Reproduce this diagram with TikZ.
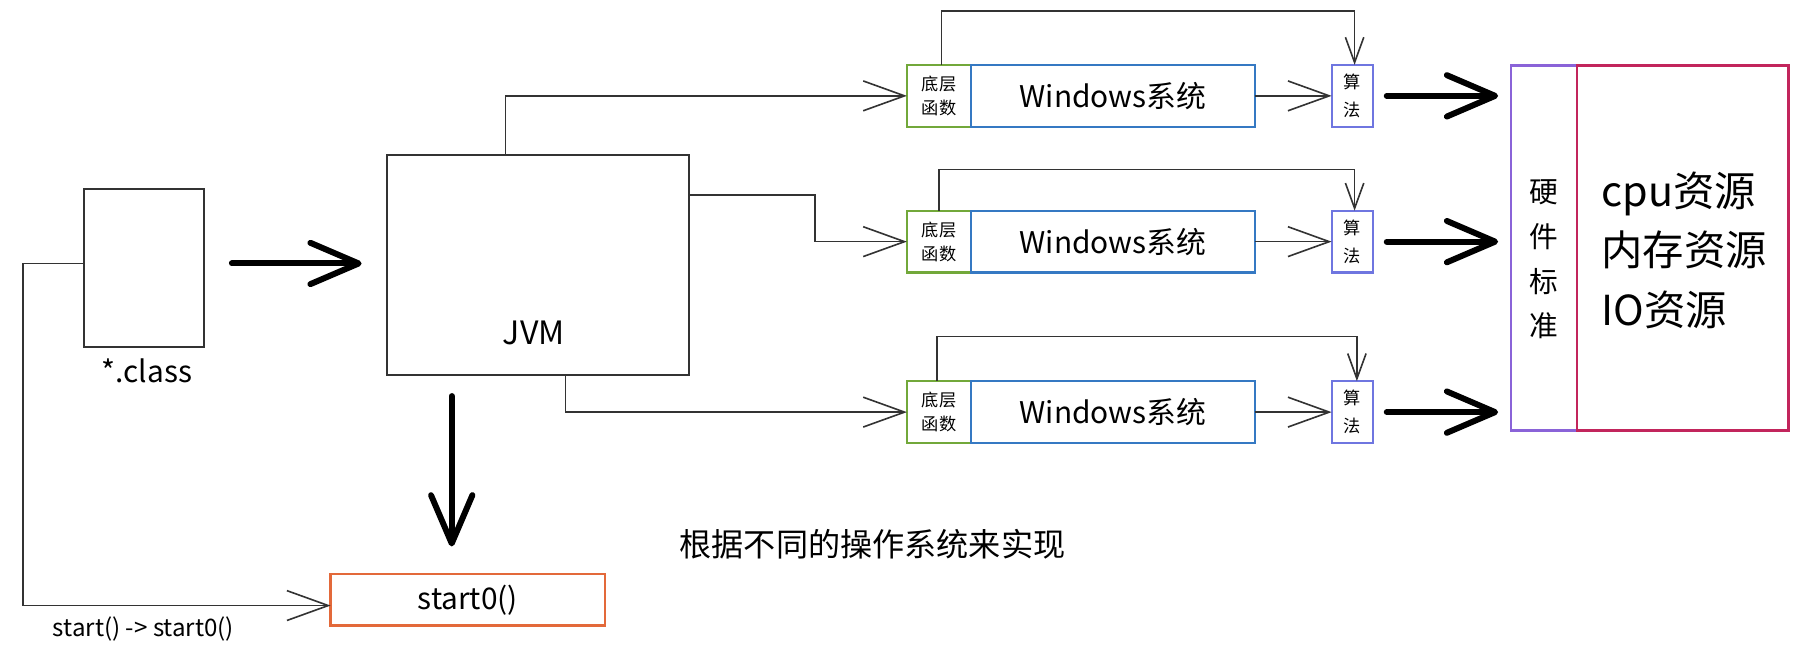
\documentclass[tikz,border=0pt]{standalone}
\usepackage{fontspec}
\setmainfont{Noto Sans CJK SC}
\usetikzlibrary{arrows.meta}

\definecolor{fngreen}{HTML}{72A83A}
\definecolor{winblue}{HTML}{3579C3}
\definecolor{algoblue}{HTML}{6F76E0}
\definecolor{hwpurple}{HTML}{8A63D8}
\definecolor{respink}{HTML}{C2255C}
\definecolor{startorange}{HTML}{E3693A}
\definecolor{linegray}{HTML}{333333}

\begin{document}
\begin{tikzpicture}[x=0.5pt, y=-0.5pt]
\tikzstyle{boxstyle}=[draw=linegray, line width=0.8pt, inner sep=0pt, outer sep=0pt]
\tikzstyle{thinline}=[draw=linegray, line width=0.7pt, -{Straight Barb[length=18pt,width=13pt]}]
\tikzstyle{loopline}=[draw=linegray, line width=0.7pt, -{Straight Barb[length=11pt,width=8pt]}]
\tikzstyle{thickline}=[black, line width=2.6pt, line cap=round, -{Straight Barb[length=21pt,width=18pt, line cap=round, line join=round]}]
    \useasboundingbox[fill=white] (0,0) rectangle (1568,562);
    % left part
    \node[boxstyle, minimum width=52.5pt, minimum height=68.5pt] (class) at (125.5,233.5) {};
    \node[font=\fontsize{13}{15}\selectfont] (classtext) at (128,323) {*.class};
    \node[boxstyle, minimum width=131.5pt, minimum height=96pt] (jvm) at (468.5,231) {};
    \node[font=\fontsize{14}{16}\selectfont] (jvmtext) at (465,290) {JVM};
    \node[boxstyle, draw=startorange, line width=1pt, minimum width=119.5pt, minimum height=22.5pt, font=\fontsize{13}{15}\selectfont] (start0) at (407.5,522.5) {start0()};
    \node[font=\fontsize{10.5}{12}\selectfont] (calltext) at (125,548) {start() -> start0()};
    \node[font=\fontsize{14}{16}\selectfont] (note) at (760,474) {根据不同的操作系统来实现};
    % three systems
    \foreach \i/\y in {1/83.5, 2/210.5, 3/359} {
        \node[boxstyle, draw=fngreen, line width=1pt, minimum width=28pt, minimum height=27pt, align=center, font=\fontsize{7.5}{10.5}\selectfont] (fn\i) at (818,\y) {底层\\函数};
        \node[boxstyle, draw=winblue, line width=1pt, minimum width=123.5pt, minimum height=27pt, font=\fontsize{13}{15}\selectfont] (win\i) at (969.5,\y) {Windows系统};
        \node[boxstyle, draw=algoblue, line width=1pt, minimum width=18pt, minimum height=27pt, align=center, font=\fontsize{7.5}{12}\selectfont] (algo\i) at (1178,\y) {算\\法};
    }
    % hardware and resources
    \node[boxstyle, draw=hwpurple, line width=1pt, minimum width=29pt, minimum height=159pt] (hw) at (1345,216) {};
    \node[align=center, font=\fontsize{12.5}{19.5}\selectfont] (hwtext) at (1345,226) {硬\\件\\标\\准};
    \node[boxstyle, draw=respink, line width=1pt, minimum width=92pt, minimum height=159pt] (res) at (1466,216) {};
    \node[anchor=west, align=left, font=\fontsize{18}{26}\selectfont] (restext) at (1388,218) {cpu资源\\内存资源\\IO资源};
    % connectors
    \draw[thickline, shorten <=12pt, shorten >=11pt] ([yshift=2pt]class.east) -- ([yshift=2pt]class.east -| jvm.west);
    \draw[thickline, shorten <=9pt, shorten >=12pt] ([xshift=-37.5pt]jvm.south) -- ([xshift=-37.5pt]jvm.south |- start0.north);
    \draw[thinline] ([yshift=2pt]class.west) -- ++(-26.5pt,0) |- ([yshift=-2.5pt]start0.west);
    \draw[thinline] ([xshift=-14pt]jvm.north) |- (fn1.west);
    \draw[thinline] ([yshift=30.5pt]jvm.east) -- ++(55pt,0) |- (fn2.west);
    \draw[thinline] ([xshift=12pt]jvm.south) |- (fn3.west);
    \draw[loopline] ([xshift=1pt]fn1.north) -- ++(0,23.5pt) -| ([xshift=1pt]algo1.north);
    \draw[loopline] (fn2.north) -- ++(0,18pt) -| ([xshift=1pt]algo2.north);
    \draw[loopline] ([xshift=-1pt]fn3.north) -- ++(0,19.5pt) -| ([xshift=2pt]algo3.north);
    \foreach \i in {1,2,3} {
        \draw[thinline] (win\i.east) -- (algo\i.west);
        \draw[thickline, shorten <=6pt, shorten >=5.5pt] (algo\i.east) -- (algo\i.east -| hw.west);
    }
\end{tikzpicture}
\end{document}
